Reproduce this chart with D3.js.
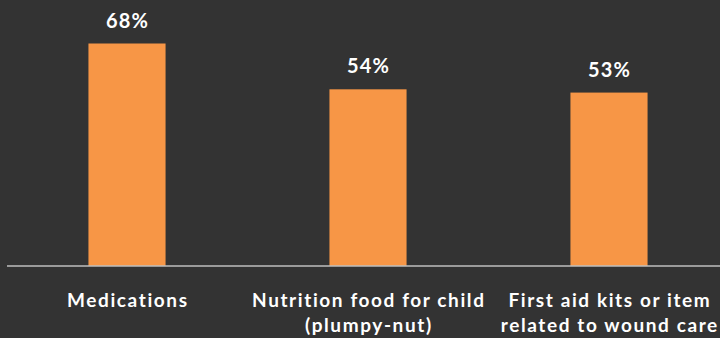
<!DOCTYPE html>
<html><head><meta charset="utf-8">
<script src="https://cdn.jsdelivr.net/npm/d3@7"></script>
<style>html,body{margin:0;padding:0;background:#333333;}svg{display:block;}</style>
</head><body>
<script>
const categories = ["Medications", "Nutrition food for child\n(plumpy-nut)", "First aid kits or item\nrelated to wound care"];
const values = [68, 54, 53];
const valueLabels = ["68%", "54%", "53%"];

const W = 720, H = 338;
const svg = d3.select("body").append("svg").attr("width", W).attr("height", H);
svg.append("rect").attr("width", W).attr("height", H).attr("fill", "#333333");

const x = d3.scaleBand().domain(categories).range([6.5, 729.5]).paddingInner(0.68).paddingOuter(0.34);
const y = d3.scaleLinear().domain([0, 68]).range([266, 43.5]);

svg.selectAll("rect.bar").data(values).join("rect")
  .attr("class", "bar")
  .attr("x", (d, i) => x(categories[i]))
  .attr("y", d => y(d))
  .attr("width", x.bandwidth())
  .attr("height", d => y(0) - y(d))
  .attr("fill", "#F79646");

const lsVal = 1.2;
svg.selectAll("text.val").data(values).join("text")
  .attr("class", "val")
  .attr("x", (d, i) => x(categories[i]) + x.bandwidth() / 2 + lsVal / 2)
  .attr("y", d => y(d) - 16)
  .attr("text-anchor", "middle")
  .attr("fill", "#ffffff")
  .attr("font-family", "Lato, 'Open Sans', sans-serif")
  .attr("font-weight", "bold")
  .attr("font-size", 20)
  .attr("letter-spacing", lsVal)
  .text((d, i) => valueLabels[i]);

const axis = d3.axisBottom(x).tickSize(0).tickFormat("");
const g = svg.append("g").attr("transform", "translate(0,266)").call(axis);
g.select(".domain").attr("stroke", "#BFBFBF").attr("stroke-width", 1.5).attr("d", "M7,0H720");

const ls = 1.6;
g.selectAll(".tick").each(function(d) {
  const t = d3.select(this).append("text")
    .attr("fill", "#ffffff")
    .attr("text-anchor", "middle")
    .attr("font-family", "Lato, 'Open Sans', sans-serif")
    .attr("font-weight", "bold")
    .attr("font-size", 19)
    .attr("letter-spacing", ls)
    .attr("y", 41);
  d.split("\n").forEach((line, i) => {
    t.append("tspan").attr("x", ls / 2).attr("dy", i === 0 ? 0 : 25).text(line);
  });
});
</script>
</body></html>
